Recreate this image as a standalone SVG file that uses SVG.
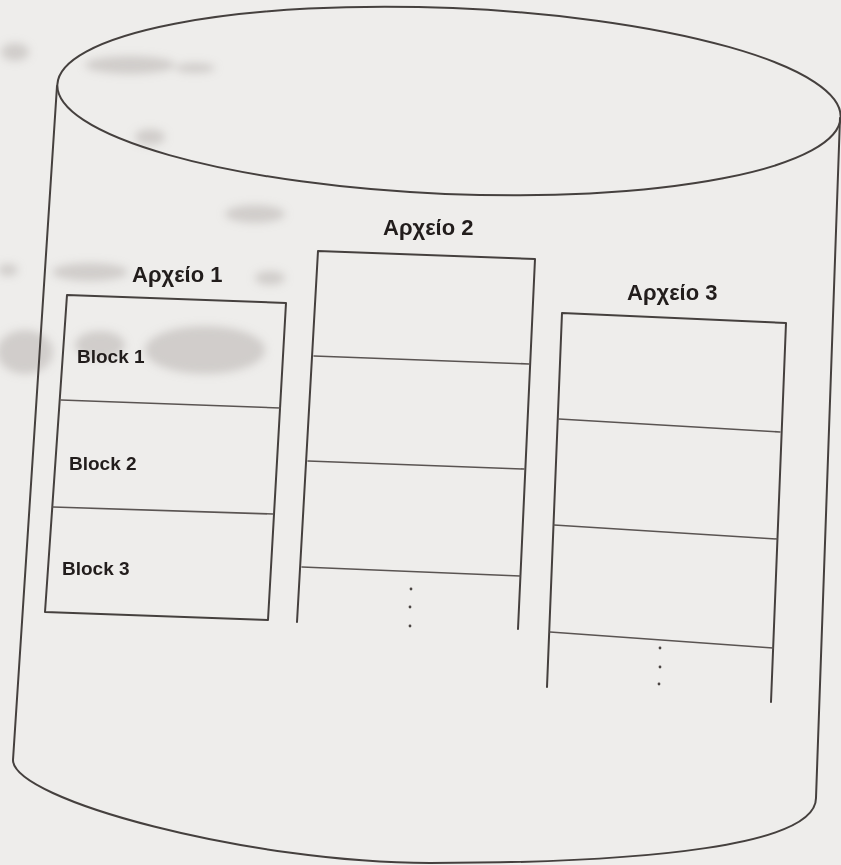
<svg xmlns="http://www.w3.org/2000/svg" width="841" height="865" viewBox="0 0 841 865">
  <style>
    .ln { fill: none; stroke: #45403e; stroke-width: 2; stroke-linecap: round; stroke-linejoin: round; }
    .thin { fill: none; stroke: #5a5452; stroke-width: 1.6; stroke-linecap: round; }
    .title { font-family: "Liberation Sans", Arial, sans-serif; font-weight: bold; font-size: 22px; fill: #221d1c; }
    .blk { font-family: "Liberation Sans", Arial, sans-serif; font-weight: bold; font-size: 19px; fill: #221d1c; }
    .dot { fill: #4a4442; }
    .smudge { fill: #b3aeab; opacity: 0.5; }
  </style>
  <defs>
    <filter id="soft" x="-20%" y="-50%" width="140%" height="200%">
      <feGaussianBlur stdDeviation="4"/>
    </filter>
  </defs>

  <!-- paper -->
  <rect width="841" height="865" fill="#eeedeb"/>

  <!-- grey print smudges -->
  <g id="smudges" filter="url(#soft)">
    <ellipse class="smudge" cx="15" cy="52" rx="14" ry="9"/>
    <ellipse class="smudge" cx="130" cy="65" rx="45" ry="9"/>
    <ellipse class="smudge" cx="195" cy="68" rx="20" ry="5"/>
    <ellipse class="smudge" cx="150" cy="137" rx="15" ry="8"/>
    <ellipse class="smudge" cx="255" cy="214" rx="30" ry="9"/>
    <ellipse class="smudge" cx="8" cy="270" rx="10" ry="6"/>
    <ellipse class="smudge" cx="90" cy="272" rx="38" ry="9"/>
    <ellipse class="smudge" cx="270" cy="278" rx="15" ry="7"/>
    <ellipse class="smudge" cx="25" cy="352" rx="28" ry="22"/>
    <ellipse class="smudge" cx="205" cy="350" rx="60" ry="24"/>
    <ellipse class="smudge" cx="100" cy="345" rx="25" ry="14"/>
  </g>

  <!-- disk cylinder -->
  <g id="disk">
    <ellipse class="ln" cx="449" cy="101" rx="392" ry="93" transform="rotate(2.4 449 101)"/>
    <path class="ln" d="M57 86 L13 760 C13 800 250 863 430 863 C650 863 816 845 816 798 L840 118"/>
  </g>

  <!-- file 1: three labelled blocks -->
  <g id="file1">
    <text class="title" x="132" y="282">Αρχείο 1</text>
    <path class="ln" d="M67 295 L286 303 L268 620 L45 612 Z"/>
    <path class="thin" d="M61 400 L280 408 M53 507 L273 514"/>
    <text class="blk" x="77" y="363">Block 1</text>
    <text class="blk" x="69" y="470">Block 2</text>
    <text class="blk" x="62" y="575">Block 3</text>
  </g>

  <!-- file 2: open-ended block list -->
  <g id="file2">
    <text class="title" x="383" y="235">Αρχείο 2</text>
    <path class="ln" d="M297 622 L318 251 L535 259 L518 629"/>
    <path class="thin" d="M314 356 L529 364 M308 461 L524 469 M302 567 L520 576"/>
    <circle class="dot" cx="411" cy="589" r="1.4"/>
    <circle class="dot" cx="410" cy="607" r="1.4"/>
    <circle class="dot" cx="410" cy="626" r="1.4"/>
  </g>

  <!-- file 3: open-ended block list -->
  <g id="file3">
    <text class="title" x="627" y="300">Αρχείο 3</text>
    <path class="ln" d="M547 687 L562 313 L786 323 L771 702"/>
    <path class="thin" d="M559 419 L780 432 M554 525 L777 539 M550 632 L773 648"/>
    <circle class="dot" cx="660" cy="648" r="1.4"/>
    <circle class="dot" cx="660" cy="667" r="1.4"/>
    <circle class="dot" cx="659" cy="684" r="1.4"/>
  </g>
</svg>
